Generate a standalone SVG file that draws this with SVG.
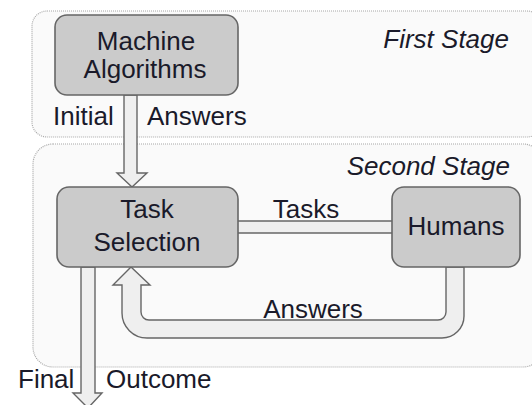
<svg xmlns="http://www.w3.org/2000/svg" width="532" height="405" viewBox="0 0 532 405">
<style>
.stage{fill:#fafafa;stroke:#a8a8a8;stroke-width:1.2;stroke-dasharray:1 1}
.node{fill:#cbcbcb;stroke:#666;stroke-width:1.6}
.arrow{fill:#efefef;stroke:#666;stroke-width:1.4;stroke-linejoin:miter}
.t{font-family:"Liberation Sans",Arial,sans-serif;font-size:26px;fill:#1a1a2a}
.i{font-style:italic}
</style>
<rect width="532" height="405" fill="#ffffff"/>
<g id="first-stage">
<rect class="stage" x="32" y="11" width="510" height="126" rx="15"/>
<text class="t i" x="509" y="48" text-anchor="end">First Stage</text>
</g>
<g id="second-stage">
<rect class="stage" x="33" y="144" width="510" height="223" rx="20"/>
<text class="t i" x="510" y="175" text-anchor="end">Second Stage</text>
</g>
<g id="connectors">
<path class="arrow" d="M124,95 V173 H117 L132,187 L147,173 H137 V95 Z"/>
<text class="t" x="53" y="125">Initial</text>
<text class="t" x="147" y="125">Answers</text>
<g id="tasks-link">
<rect x="237" y="221" width="156" height="12" fill="#efefef"/>
<line x1="237" y1="221" x2="393" y2="221" stroke="#666" stroke-width="1.4"/>
<line x1="237" y1="233" x2="393" y2="233" stroke="#666" stroke-width="1.4"/>
<text class="t" x="306" y="218" text-anchor="middle">Tasks</text>
</g>
<path class="arrow" d="M464,267 V316 A22,22 0 0 1 442,338 H147 A25,25 0 0 1 122,313 V285 H113 L131,267 L150,285 H141 V312 A8,8 0 0 0 149,320 H438 A8,8 0 0 0 446,312 V267 Z"/>
<text class="t" x="313" y="318" text-anchor="middle">Answers</text>
<path class="arrow" d="M81,267 V393 H73 L88,408 L102,393 H95 V267 Z"/>
<text class="t" x="18" y="388">Final</text>
<text class="t" x="106" y="388">Outcome</text>
</g>
<g id="machine-algorithms">
<rect class="node" x="55" y="15" width="183" height="80" rx="12"/>
<text class="t" x="146" y="50" text-anchor="middle">Machine</text>
<text class="t" x="145" y="78" text-anchor="middle">Algorithms</text>
</g>
<g id="task-selection">
<rect class="node" x="57" y="187" width="181" height="80" rx="12"/>
<text class="t" x="147" y="218" text-anchor="middle">Task</text>
<text class="t" x="147" y="251" text-anchor="middle">Selection</text>
</g>
<g id="humans">
<rect class="node" x="392" y="187" width="128" height="80" rx="12"/>
<text class="t" x="456" y="235" text-anchor="middle">Humans</text>
</g>
</svg>
